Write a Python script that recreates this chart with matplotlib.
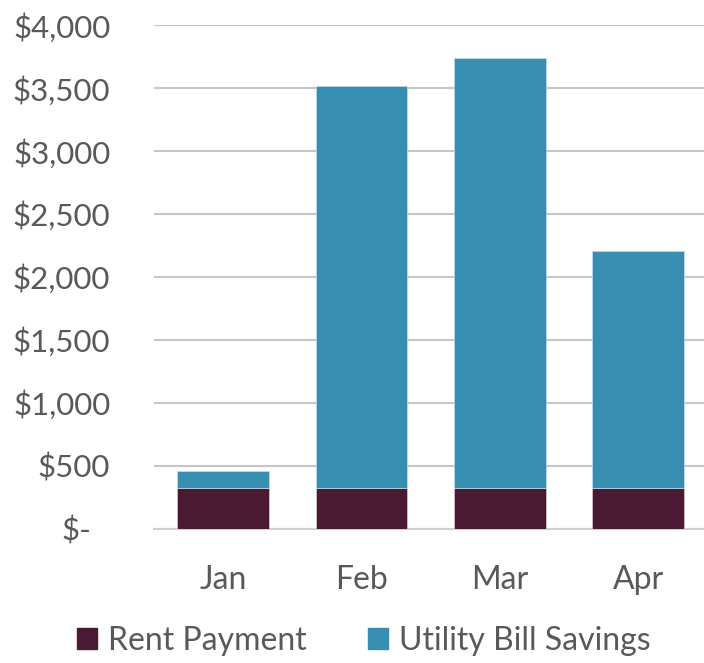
import matplotlib
matplotlib.use("Agg")
import matplotlib.pyplot as plt
from matplotlib.patches import Patch
from matplotlib.transforms import ScaledTranslation

months = ["Jan", "Feb", "Mar", "Apr"]
rent = [326, 326, 326, 326]
utility = [135, 3193, 3410, 1882]
yticks = [0, 500, 1000, 1500, 2000, 2500, 3000, 3500, 4000]
ytick_labels = ["$-", "$500", "$1,000", "$1,500", "$2,000", "$2,500", "$3,000", "$3,500", "$4,000"]

rent_color = "#4A1932"
util_color = "#388EB0"
text_color = "#595959"

plt.rcParams['font.family'] = ['Lato', 'DejaVu Sans']

fig = plt.figure(figsize=(7.04, 6.63), dpi=100)
ax = fig.add_axes([154/704, (663 - 528.7)/663, 1 - 154/704, (528.7 - 25)/663])

x = list(range(len(months)))
ax.bar(x, rent, width=0.665, color=rent_color, edgecolor="#d8c8d0", linewidth=0.5, zorder=3)
ax.bar(x, utility, bottom=rent, width=0.665, color=util_color, edgecolor="#bfe0ee", linewidth=0.5, zorder=3)

ax.set_ylim(0, 4000)
ax.set_xlim(-0.5, 3.476)
ax.set_yticks(yticks)
ax.set_yticklabels(ytick_labels)
ax.set_xticks(x)
ax.set_xticklabels(months)
ax.tick_params(axis='y', length=0, pad=31.5, labelsize=22.5, labelcolor=text_color)
ax.tick_params(axis='x', length=0, pad=26, labelsize=23, labelcolor=text_color)
# accounting-style "$-" keeps a trailing gap
lbl = ax.get_yticklabels()[0]
lbl.set_transform(lbl.get_transform() + ScaledTranslation(-19/100, 0, fig.dpi_scale_trans))
ax.yaxis.grid(True, color="#c6c6c6", linewidth=1.5, zorder=0)
ax.set_axisbelow(True)
for s in ["top", "right", "left"]:
    ax.spines[s].set_visible(False)
ax.spines["bottom"].set_color("#d0d0d0")
ax.spines["bottom"].set_linewidth(1.5)

handles = [Patch(color=rent_color, label="Rent Payment"),
           Patch(color=util_color, label="Utility Bill Savings")]
fig.legend(handles=handles, loc="center", bbox_to_anchor=(364/704, 1 - 641/663), ncol=2,
           frameon=False, fontsize=23, labelcolor=text_color, handlelength=0.63,
           handleheight=0.63, handletextpad=0.35, columnspacing=1.9,
           borderpad=0, borderaxespad=0)

fig.savefig("out.png", dpi=100)
